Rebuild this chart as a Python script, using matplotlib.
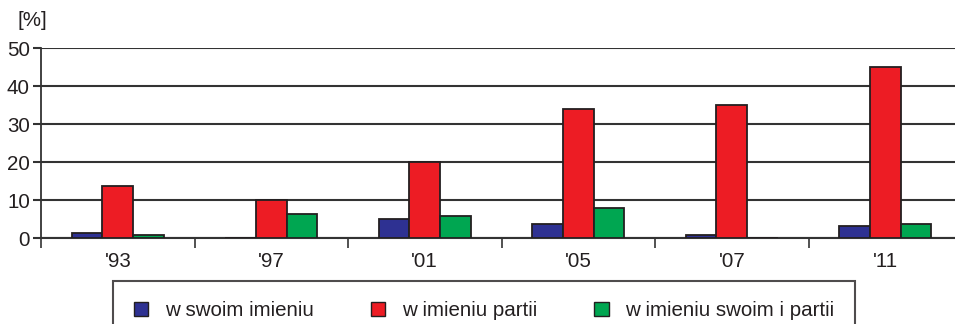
import matplotlib
matplotlib.use("Agg")
import matplotlib.pyplot as plt
from matplotlib.patches import Rectangle
import numpy as np

plt.rcParams['font.family'] = ['Liberation Sans', 'DejaVu Sans']

# Data
years = ["'93", "'97", "'01", "'05", "'07", "'11"]
w_swoim_imieniu = [1.2, 0.0, 4.9, 3.8, 0.9, 3.2]
w_imieniu_partii = [13.7, 10.1, 19.9, 34.0, 35.1, 45.1]
w_imieniu_swoim_i_partii = [0.7, 6.2, 5.8, 8.0, 0.0, 3.8]
series_labels = ["w swoim imieniu", "w imieniu partii", "w imieniu swoim i partii"]
y_ticks = [0, 10, 20, 30, 40, 50]

colors = ["#2E3192", "#ED1C24", "#00A651"]
edge = "#231F20"
txt = "#231F20"
fs = 14.8

W, H = 955, 324
fig = plt.figure(figsize=(W / 100, H / 100), dpi=100)
ax = fig.add_axes([41 / W, 1 - 238 / H, (962 - 41) / W, (238 - 48) / H])

x = np.arange(len(years))
bw = 0.2
series = [w_swoim_imieniu, w_imieniu_partii, w_imieniu_swoim_i_partii]
for i, (vals, c) in enumerate(zip(series, colors)):
    ax.bar(x + (i - 1) * bw, vals, width=bw, color=c, edgecolor=edge,
           linewidth=1.3, zorder=3)

ax.set_xlim(-0.5, len(years) - 0.5)
ax.set_ylim(0, 50)
ax.set_yticks(y_ticks)
ax.set_yticklabels([str(t) for t in y_ticks], fontsize=fs, color=txt)
ax.yaxis.grid(True, color="#333333", linewidth=1.5, zorder=0)

ax.set_xticks(x)
ax.set_xticklabels(years, fontsize=fs, color=txt)
ax.set_xticks(np.arange(-0.5, len(years) + 0.5, 1), minor=True)
ax.tick_params(axis='x', which='major', length=0, pad=10)
ax.tick_params(axis='x', which='minor', length=7, width=1.2, color="#333333")
ax.tick_params(axis='y', length=6, width=1.5, color="#333333", pad=2)

for s in ["top", "right"]:
    ax.spines[s].set_visible(False)
ax.spines["left"].set_color("#333333")
ax.spines["left"].set_linewidth(1.3)
ax.spines["bottom"].set_color("#333333")
ax.spines["bottom"].set_linewidth(1.5)

fig.text(17 / W, 1 - 20 / H, "[%]", fontsize=fs, color=txt,
         ha="left", va="center")

handles = [Rectangle((0, 0), 1, 1, facecolor=c, edgecolor=edge, linewidth=1.0)
           for c in colors]
leg = fig.legend(handles, series_labels, loc="upper left",
                 bbox_to_anchor=(113 / W, 1 - 284 / H, (855 - 113) / W, 0.01),
                 mode="expand", ncol=3, fontsize=fs, frameon=True,
                 fancybox=False, handlelength=0.72, handleheight=0.72,
                 handletextpad=0.8, columnspacing=2.2, borderpad=1.0,
                 borderaxespad=0)
leg.get_frame().set_edgecolor("#231F20")
leg.get_frame().set_linewidth(1.5)
for t in leg.get_texts():
    t.set_color(txt)

fig.savefig("out.png", dpi=100)
